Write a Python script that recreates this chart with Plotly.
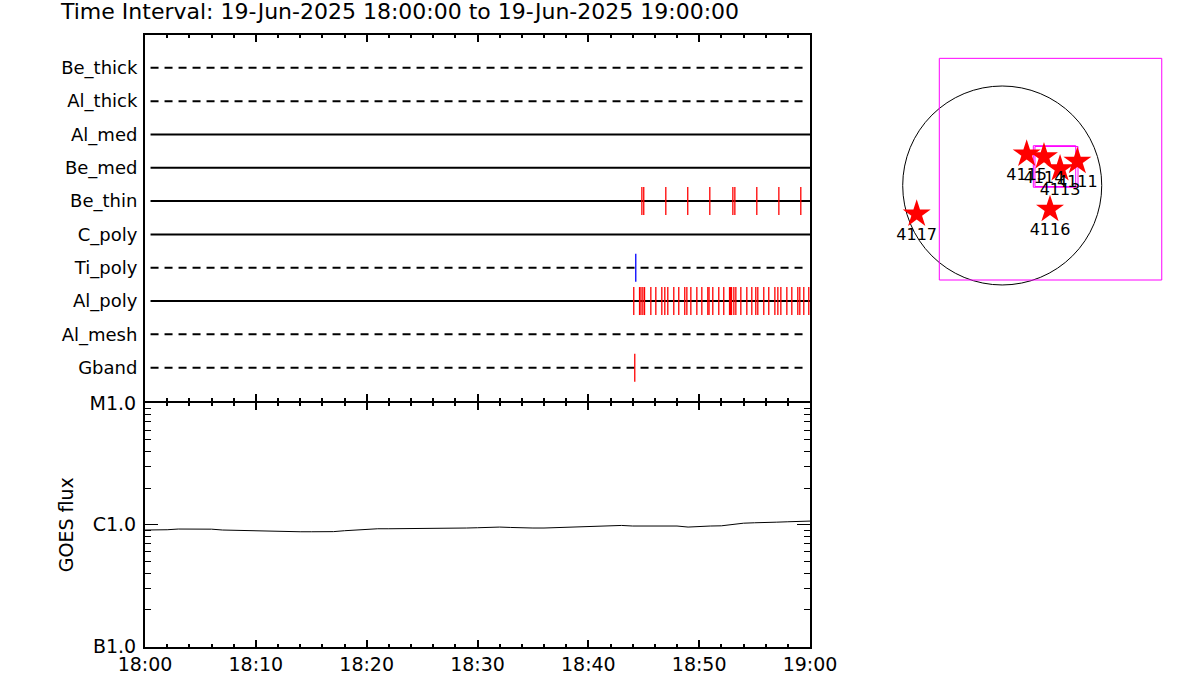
import pandas as pd
import plotly.graph_objects as go

# ---------------- data ----------------
t_start = "2025-06-19 18:00:00"
t_end = "2025-06-19 19:00:00"

channels = ["Be_thick", "Al_thick", "Al_med", "Be_med", "Be_thin",
            "C_poly", "Ti_poly", "Al_poly", "Al_mesh", "Gband"]
dashed_channels = ["Be_thick", "Al_thick", "Ti_poly", "Al_mesh", "Gband"]

# event times (minutes after 18:00) per channel
be_thin_min = [44.83, 45.00, 46.99, 48.97, 50.96, 53.04, 53.22, 55.20, 57.19, 59.17]
al_poly_min = [44.10, 44.62, 44.75, 44.92, 45.07, 45.64, 46.09, 46.63, 46.90, 47.17,
               47.71, 48.16, 48.70, 48.89, 49.25, 49.79, 50.24, 50.78, 50.89, 51.23,
               51.77, 52.22, 52.74, 52.83, 52.92, 53.13, 53.31, 53.76, 54.30, 54.75,
               55.11, 55.29, 55.83, 56.28, 56.83, 57.10, 57.37, 57.91, 58.36, 58.90,
               59.08, 59.44, 59.89]
ti_poly_min = [44.28]
gband_min = [44.19]

# GOES flux, one sample per minute 18:00 .. 19:00 (units 1e-7 W/m^2)
goes_minutes = list(range(0, 61))
goes_flux_e7 = [9.05, 9.05, 9.10, 9.22, 9.22, 9.22, 9.20, 9.05, 9.00, 8.88,
                8.88, 8.88, 8.85, 8.76, 8.76, 8.76, 8.76, 8.78, 8.93, 9.05,
                9.27, 9.27, 9.27, 9.27, 9.30, 9.40, 9.40, 9.40, 9.40, 9.40,
                9.45, 9.57, 9.57, 9.50, 9.40, 9.40, 9.40, 9.45, 9.57, 9.57,
                9.65, 9.76, 9.80, 9.87, 9.76, 9.76, 9.76, 9.76, 9.76, 9.57,
                9.60, 9.76, 9.80, 10.06, 10.30, 10.38, 10.38, 10.50, 10.58, 10.60,
                10.72]
goes_ticks = [1e-7, 1e-6, 1e-5]
goes_ticktext = ["B1.0", "C1.0", "M1.0"]

# solar map (arcsec)
ar_numbers = ["4115", "4114", "4113", "4111", "4116", "4117"]
ar_x = [236, 403, 558, 725, 461, -825]
ar_y = [304, 278, 162, 233, -230, -275]
sun_radius = 960
fov_big = [-607, -912, 1539, 1227]          # x0, y0, x1, y1
fov_small_a = [300, -17, 709, 384]
fov_small_b = [316, -10, 731, 376]

# ---------------- helpers ----------------
W, H = 1200, 700


def px(x):
    return x / W


def py(y):
    return 1 - y / H


base = pd.Timestamp(t_start)


def to_time(mins):
    return [base + pd.to_timedelta(m, unit="m") for m in mins]


row_of = {c: len(channels) - i for i, c in enumerate(channels)}

fig = go.Figure()

# channel baselines
for c in channels:
    is_dash = c in dashed_channels
    xs = to_time([0.5, 59.6 if is_dash else 60.0])
    fig.add_trace(go.Scatter(
        x=xs, y=[row_of[c]] * 2, mode="lines", xaxis="x", yaxis="y",
        line=dict(color="black", width=2, dash="8px,6px" if is_dash else "solid"),
        hoverinfo="skip", showlegend=False))


def add_events(mins, channel, color):
    xs, ys = [], []
    r = row_of[channel]
    for t in to_time(mins):
        xs += [t, t, None]
        ys += [r - 0.42, r + 0.42, None]
    fig.add_trace(go.Scatter(x=xs, y=ys, mode="lines", xaxis="x", yaxis="y",
                             line=dict(color=color, width=1.3), showlegend=False,
                             hoverinfo="skip"))


add_events(be_thin_min, "Be_thin", "#ff0000")
add_events(al_poly_min, "Al_poly", "#ff0000")
add_events(ti_poly_min, "Ti_poly", "#0000ff")
add_events(gband_min, "Gband", "#ff0000")

# GOES curve
fig.add_trace(go.Scatter(
    x=to_time(goes_minutes), y=[v * 1e-7 for v in goes_flux_e7],
    mode="lines", xaxis="x2", yaxis="y2",
    line=dict(color="black", width=1), showlegend=False))

# map stars
fig.add_trace(go.Scatter(
    x=ar_x, y=ar_y, text=ar_numbers, mode="markers+text", xaxis="x3", yaxis="y3",
    marker=dict(symbol="star", size=21, color="#ff0000", line=dict(width=0)),
    textposition="bottom center",
    textfont=dict(family="DejaVu Sans", size=16, color="black"),
    showlegend=False))

shapes = [
    dict(type="circle", xref="x3", yref="y3", x0=-sun_radius, x1=sun_radius,
         y0=-sun_radius, y1=sun_radius, line=dict(color="black", width=1), layer="below"),
]
for b in (fov_big, fov_small_a, fov_small_b):
    shapes.append(dict(type="rect", xref="x3", yref="y3", x0=b[0], y0=b[1], x1=b[2], y1=b[3],
                       line=dict(color="#ff00ff", width=1), layer="below"))

font_main = "DejaVu Sans"
ax_common = dict(
    type="date", range=[t_start, t_end], domain=[px(145), px(810)],
    ticks="inside", ticklen=7, tickwidth=2, tickcolor="black",
    tick0=t_start, dtick=600000,
    minor=dict(ticks="inside", ticklen=3, tickwidth=2, tickcolor="black", dtick=120000),
    showline=True, linewidth=2, linecolor="black", mirror="ticks",
    showgrid=False, zeroline=False, automargin=False,
)

fig.update_layout(
    width=W, height=H, margin=dict(l=0, r=0, t=0, b=0, autoexpand=False),
    paper_bgcolor="white", plot_bgcolor="white", showlegend=False,
    font=dict(family=font_main, color="black"),
    xaxis=dict(ax_common, anchor="y", showticklabels=False),
    yaxis=dict(domain=[py(401), py(34.5)], range=[0, 11], anchor="x",
               tickvals=[row_of[c] for c in channels], ticktext=channels,
               ticks="", showline=True, linewidth=2, linecolor="black", mirror=True,
               showgrid=False, zeroline=False, automargin=False, ticklabelstandoff=2,
               tickfont=dict(family=font_main, size=18, color="black")),
    xaxis2=dict(ax_common, anchor="y2", showticklabels=True, tickformat="%H:%M",
                tickfont=dict(family=font_main, size=19, color="black")),
    yaxis2=dict(type="log", range=[-7, -5], domain=[py(646.5), py(403)], anchor="x2",
                tickvals=goes_ticks, ticktext=goes_ticktext,
                ticks="inside", ticklen=13, tickwidth=1, tickcolor="black",
                minor=dict(ticks="inside", ticklen=6, tickwidth=1, tickcolor="black",
                           tickmode="array",
                           tickvals=[k * 1e-7 for k in range(2, 10)] + [k * 1e-6 for k in range(2, 10)]),
                showline=True, linewidth=2, linecolor="black", mirror="ticks",
                showgrid=False, zeroline=False, automargin=False, ticklabelstandoff=3,
                tickfont=dict(family=font_main, size=19, color="black"),
                title=dict(text="GOES flux", standoff=11,
                           font=dict(family=font_main, size=19, color="black"))),
    xaxis3=dict(domain=[px(880), px(1180)], range=[-1179, 1715], anchor="y3",
                visible=False),
    yaxis3=dict(domain=[py(300), py(40)], range=[-1105, 1404], anchor="x3",
                visible=False),
    shapes=shapes,
    annotations=[dict(text="Time Interval: 19-Jun-2025 18:00:00 to 19-Jun-2025 19:00:00",
                      xref="paper", yref="paper", x=px(58), y=py(12),
                      xanchor="left", yanchor="middle", showarrow=False,
                      font=dict(family=font_main, size=22, color="black"))],
)

fig.write_html("out.html", config={"displayModeBar": False},
               post_script="document.body.style.margin='0';document.body.style.overflow='hidden';")
